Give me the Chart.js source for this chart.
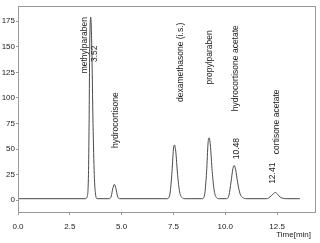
<!DOCTYPE html>
<html>
<head>
<meta charset="utf-8">
<script src="https://cdn.jsdelivr.net/npm/chart.js@4.4.1/dist/chart.umd.min.js"></script>
<style>
  html, body { margin: 0; padding: 0; background: #fff; }
  canvas { display: block; }
</style>
</head>
<body>
<canvas id="chromatogram" width="320" height="243"></canvas>
<script>
// Detector trace (time in min, signal)
const traceTime = [
  0, 3.25, 3.33, 3.40, 3.43, 3.46, 3.51, 3.56, 3.62, 3.68, 3.74, 3.82,
  4.40, 4.50, 4.57, 4.65, 4.73, 4.80, 4.90,
  7.20, 7.32, 7.42, 7.50, 7.55, 7.61, 7.70, 7.80, 7.92, 8.02,
  8.88, 9.00, 9.10, 9.17, 9.22, 9.28, 9.37, 9.47, 9.58, 9.68,
  10.05, 10.18, 10.28, 10.37, 10.43, 10.50, 10.60, 10.72, 10.85, 11.00,
  12.00, 12.15, 12.30, 12.41, 12.52, 12.65, 12.80, 12.95,
  13.60
];
const traceSignal = [
  1.5, 1.5, 3, 25, 75, 150, 179, 150, 75, 25, 6, 1.5,
  1.5, 4, 11, 15.5, 11, 4, 1.5,
  1.5, 5, 25, 50, 54, 48, 25, 8, 2.5, 1.5,
  1.5, 5, 28, 56, 61, 54, 28, 9, 2.5, 1.5,
  1.5, 5, 18, 31, 34, 30, 17, 6, 2.5, 1.5,
  1.5, 3, 6, 7.5, 6, 3, 1.8, 1.5,
  1.5
];

const xTicks = [0, 2.5, 5, 7.5, 10, 12.5];
const xTickLabels = ['0.0', '2.5', '5.0', '7.5', '10.0', '12.5'];
const yTicks = [0, 25, 50, 75, 100, 125, 150, 175];
const yTickLabels = ['0', '25', '50', '75', '100', '125', '150', '175'];

const peakNames = ['methylparaben', 'hydrocortisone', 'dexamethasone (i.s.)',
  'propylparaben', 'hydrocortisone acetate', 'cortisone acetate'];
const retentionLabels = ['3.52', '10.48', '12.41'];

// where each vertical label starts (data units), kept apart from the data
const nameAnchors = [[3.21, 124], [4.73, 51], [7.84, 96], [9.27, 113], [10.52, 87], [12.5, 45]];
const rtAnchors = [[3.72, 135], [10.57, 40], [12.31, 16]];

const FONT = '"Liberation Sans", Arial, sans-serif';
const NARROW = '"Liberation Sans Narrow", "Liberation Sans", Arial, sans-serif';

const peakLabelPlugin = {
  id: 'peakLabels',
  afterDatasetsDraw(chart) {
    const { ctx, chartArea, scales: { x, y } } = chart;
    ctx.save();
    // frame round the plot
    ctx.strokeStyle = '#9a9a9a';
    ctx.lineWidth = 1;
    ctx.strokeRect(Math.round(chartArea.left) + 0.5, Math.round(chartArea.top) + 0.5,
      Math.round(chartArea.right - chartArea.left), Math.round(chartArea.bottom - chartArea.top));

    ctx.fillStyle = '#222';
    ctx.font = '8.5px ' + FONT;
    ctx.textAlign = 'left';
    ctx.textBaseline = 'middle';
    const drawVertical = (text, at) => {
      ctx.save();
      ctx.translate(x.getPixelForValue(at[0]), y.getPixelForValue(at[1]));
      ctx.rotate(-Math.PI / 2);
      ctx.fillText(text, 0, 0);
      ctx.restore();
    };
    peakNames.forEach((name, i) => drawVertical(name, nameAnchors[i]));
    retentionLabels.forEach((rt, i) => drawVertical(rt, rtAnchors[i]));

    // axis unit
    ctx.font = '8px ' + NARROW;
    ctx.textAlign = 'right';
    ctx.fillText('Time[min]', 311, 235);
    ctx.restore();
  }
};

const ctx = document.getElementById('chromatogram').getContext('2d');
new Chart(ctx, {
  type: 'line',
  data: {
    datasets: [{
      data: traceTime.map((t, i) => ({ x: t, y: traceSignal[i] })),
      borderColor: '#4a4a4a',
      borderWidth: 1,
      pointRadius: 0,
      cubicInterpolationMode: 'monotone',
      fill: false
    }]
  },
  options: {
    responsive: false,
    animation: false,
    layout: { padding: { top: 3, right: 5, left: 0, bottom: 0 } },
    plugins: { legend: { display: false }, tooltip: { enabled: false } },
    scales: {
      x: {
        type: 'linear',
        min: 0,
        max: 14.33,
        afterBuildTicks: scale => { scale.ticks = xTicks.map(v => ({ value: v })); },
        afterFit: scale => { scale.height = 31; },
        grid: { drawOnChartArea: false, tickLength: 3, color: '#9a9a9a' },
        border: { display: false },
        ticks: {
          padding: 7,
          color: '#222',
          font: { family: FONT, size: 8 },
          maxRotation: 0,
          callback: v => xTickLabels[xTicks.indexOf(v)]
        }
      },
      y: {
        min: -11.5,
        max: 190,
        afterBuildTicks: scale => { scale.ticks = yTicks.map(v => ({ value: v })); },
        afterFit: scale => { scale.width = 18; },
        grid: { drawOnChartArea: false, tickLength: 2, color: '#9a9a9a' },
        border: { display: false },
        ticks: {
          padding: 1,
          color: '#222',
          font: { family: FONT, size: 8 },
          callback: v => yTickLabels[yTicks.indexOf(v)]
        }
      }
    }
  },
  plugins: [peakLabelPlugin]
});
</script>
</body>
</html>
